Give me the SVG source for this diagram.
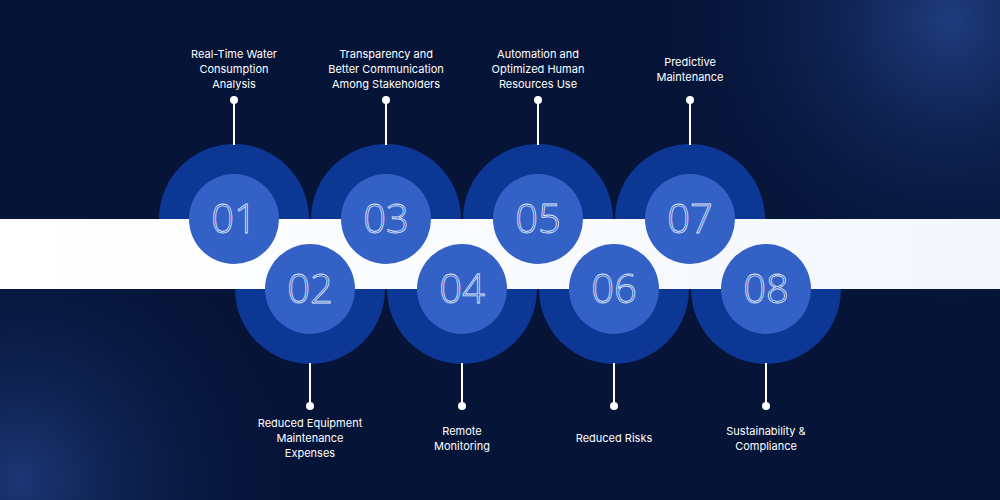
<svg xmlns="http://www.w3.org/2000/svg" width="1000" height="500" viewBox="0 0 1000 500">
<defs>
<radialGradient id="g1" cx="950" cy="20" r="300" gradientUnits="userSpaceOnUse"><stop offset="0" stop-color="#24468f" stop-opacity="0.8"/><stop offset="1" stop-color="#061438" stop-opacity="0"/></radialGradient>
<radialGradient id="g2" cx="20" cy="480" r="280" gradientUnits="userSpaceOnUse"><stop offset="0" stop-color="#24468f" stop-opacity="0.7"/><stop offset="1" stop-color="#061438" stop-opacity="0"/></radialGradient>
<linearGradient id="band" x1="0" x2="1"><stop offset="0" stop-color="#ffffff"/><stop offset="1" stop-color="#f3f7fc"/></linearGradient>
<clipPath id="cTop"><rect x="0" y="0" width="1000" height="219"/></clipPath>
<clipPath id="cBot"><rect x="0" y="289" width="1000" height="211"/></clipPath>
<style>
.o{fill:#0d3794}.i{fill:#3361c5}
.n{font-family:"Open Sans","Liberation Sans",sans-serif;font-weight:300;font-size:40px;fill:none;stroke:#dfe8ff;stroke-width:0.8;text-anchor:middle}
.t{font-family:Inter,"Liberation Sans",sans-serif;font-size:11px;fill:#ffffff;text-anchor:middle}
.l{stroke:#ffffff;stroke-width:2}.d{fill:#ffffff}
</style>
</defs>
<rect width="1000" height="500" fill="#061438"/>
<rect width="1000" height="500" fill="url(#g1)"/>
<rect width="1000" height="500" fill="url(#g2)"/>
<g id="outerTop" clip-path="url(#cTop)"><circle class="o" cx="234" cy="219" r="75"/><circle class="o" cx="386" cy="219" r="75"/><circle class="o" cx="538" cy="219" r="75"/><circle class="o" cx="690" cy="219" r="75"/></g>
<g id="outerBottom" clip-path="url(#cBot)"><circle class="o" cx="310" cy="289" r="75"/><circle class="o" cx="462" cy="289" r="75"/><circle class="o" cx="614" cy="289" r="75"/><circle class="o" cx="766" cy="289" r="75"/></g>
<rect x="0" y="219" width="1000" height="70" fill="url(#band)"/>
<g id="connectors">
<line class="l" x1="234" y1="100" x2="234" y2="145"/><circle class="d" cx="234" cy="100" r="4"/>
<line class="l" x1="386" y1="100" x2="386" y2="145"/><circle class="d" cx="386" cy="100" r="4"/>
<line class="l" x1="538" y1="100" x2="538" y2="145"/><circle class="d" cx="538" cy="100" r="4"/>
<line class="l" x1="690" y1="100" x2="690" y2="145"/><circle class="d" cx="690" cy="100" r="4"/>
<line class="l" x1="310" y1="363" x2="310" y2="406"/><circle class="d" cx="310" cy="406" r="4"/>
<line class="l" x1="462" y1="363" x2="462" y2="406"/><circle class="d" cx="462" cy="406" r="4"/>
<line class="l" x1="614" y1="363" x2="614" y2="406"/><circle class="d" cx="614" cy="406" r="4"/>
<line class="l" x1="766" y1="363" x2="766" y2="406"/><circle class="d" cx="766" cy="406" r="4"/>
</g>
<g id="n01"><circle class="i" cx="234" cy="219" r="45"/><text class="n" x="234" y="233">01</text><text class="t" x="234" y="58">Real-Time Water</text><text class="t" x="234" y="73">Consumption</text><text class="t" x="234" y="88">Analysis</text></g>
<g id="n03"><circle class="i" cx="386" cy="219" r="45"/><text class="n" x="386" y="233">03</text><text class="t" x="386" y="58">Transparency and</text><text class="t" x="386" y="73">Better Communication</text><text class="t" x="386" y="88">Among Stakeholders</text></g>
<g id="n05"><circle class="i" cx="538" cy="219" r="45"/><text class="n" x="538" y="233">05</text><text class="t" x="538" y="58">Automation and</text><text class="t" x="538" y="73">Optimized Human</text><text class="t" x="538" y="88">Resources Use</text></g>
<g id="n07"><circle class="i" cx="690" cy="219" r="45"/><text class="n" x="690" y="233">07</text><text class="t" x="690" y="66">Predictive</text><text class="t" x="690" y="81">Maintenance</text></g>
<g id="n02"><circle class="i" cx="310" cy="289" r="45"/><text class="n" x="310" y="303">02</text><text class="t" x="310" y="427">Reduced Equipment</text><text class="t" x="310" y="442">Maintenance</text><text class="t" x="310" y="457">Expenses</text></g>
<g id="n04"><circle class="i" cx="462" cy="289" r="45"/><text class="n" x="462" y="303">04</text><text class="t" x="462" y="435">Remote</text><text class="t" x="462" y="450">Monitoring</text></g>
<g id="n06"><circle class="i" cx="614" cy="289" r="45"/><text class="n" x="614" y="303">06</text><text class="t" x="614" y="442">Reduced Risks</text></g>
<g id="n08"><circle class="i" cx="766" cy="289" r="45"/><text class="n" x="766" y="303">08</text><text class="t" x="766" y="435">Sustainability &amp;</text><text class="t" x="766" y="450">Compliance</text></g>
</svg>
